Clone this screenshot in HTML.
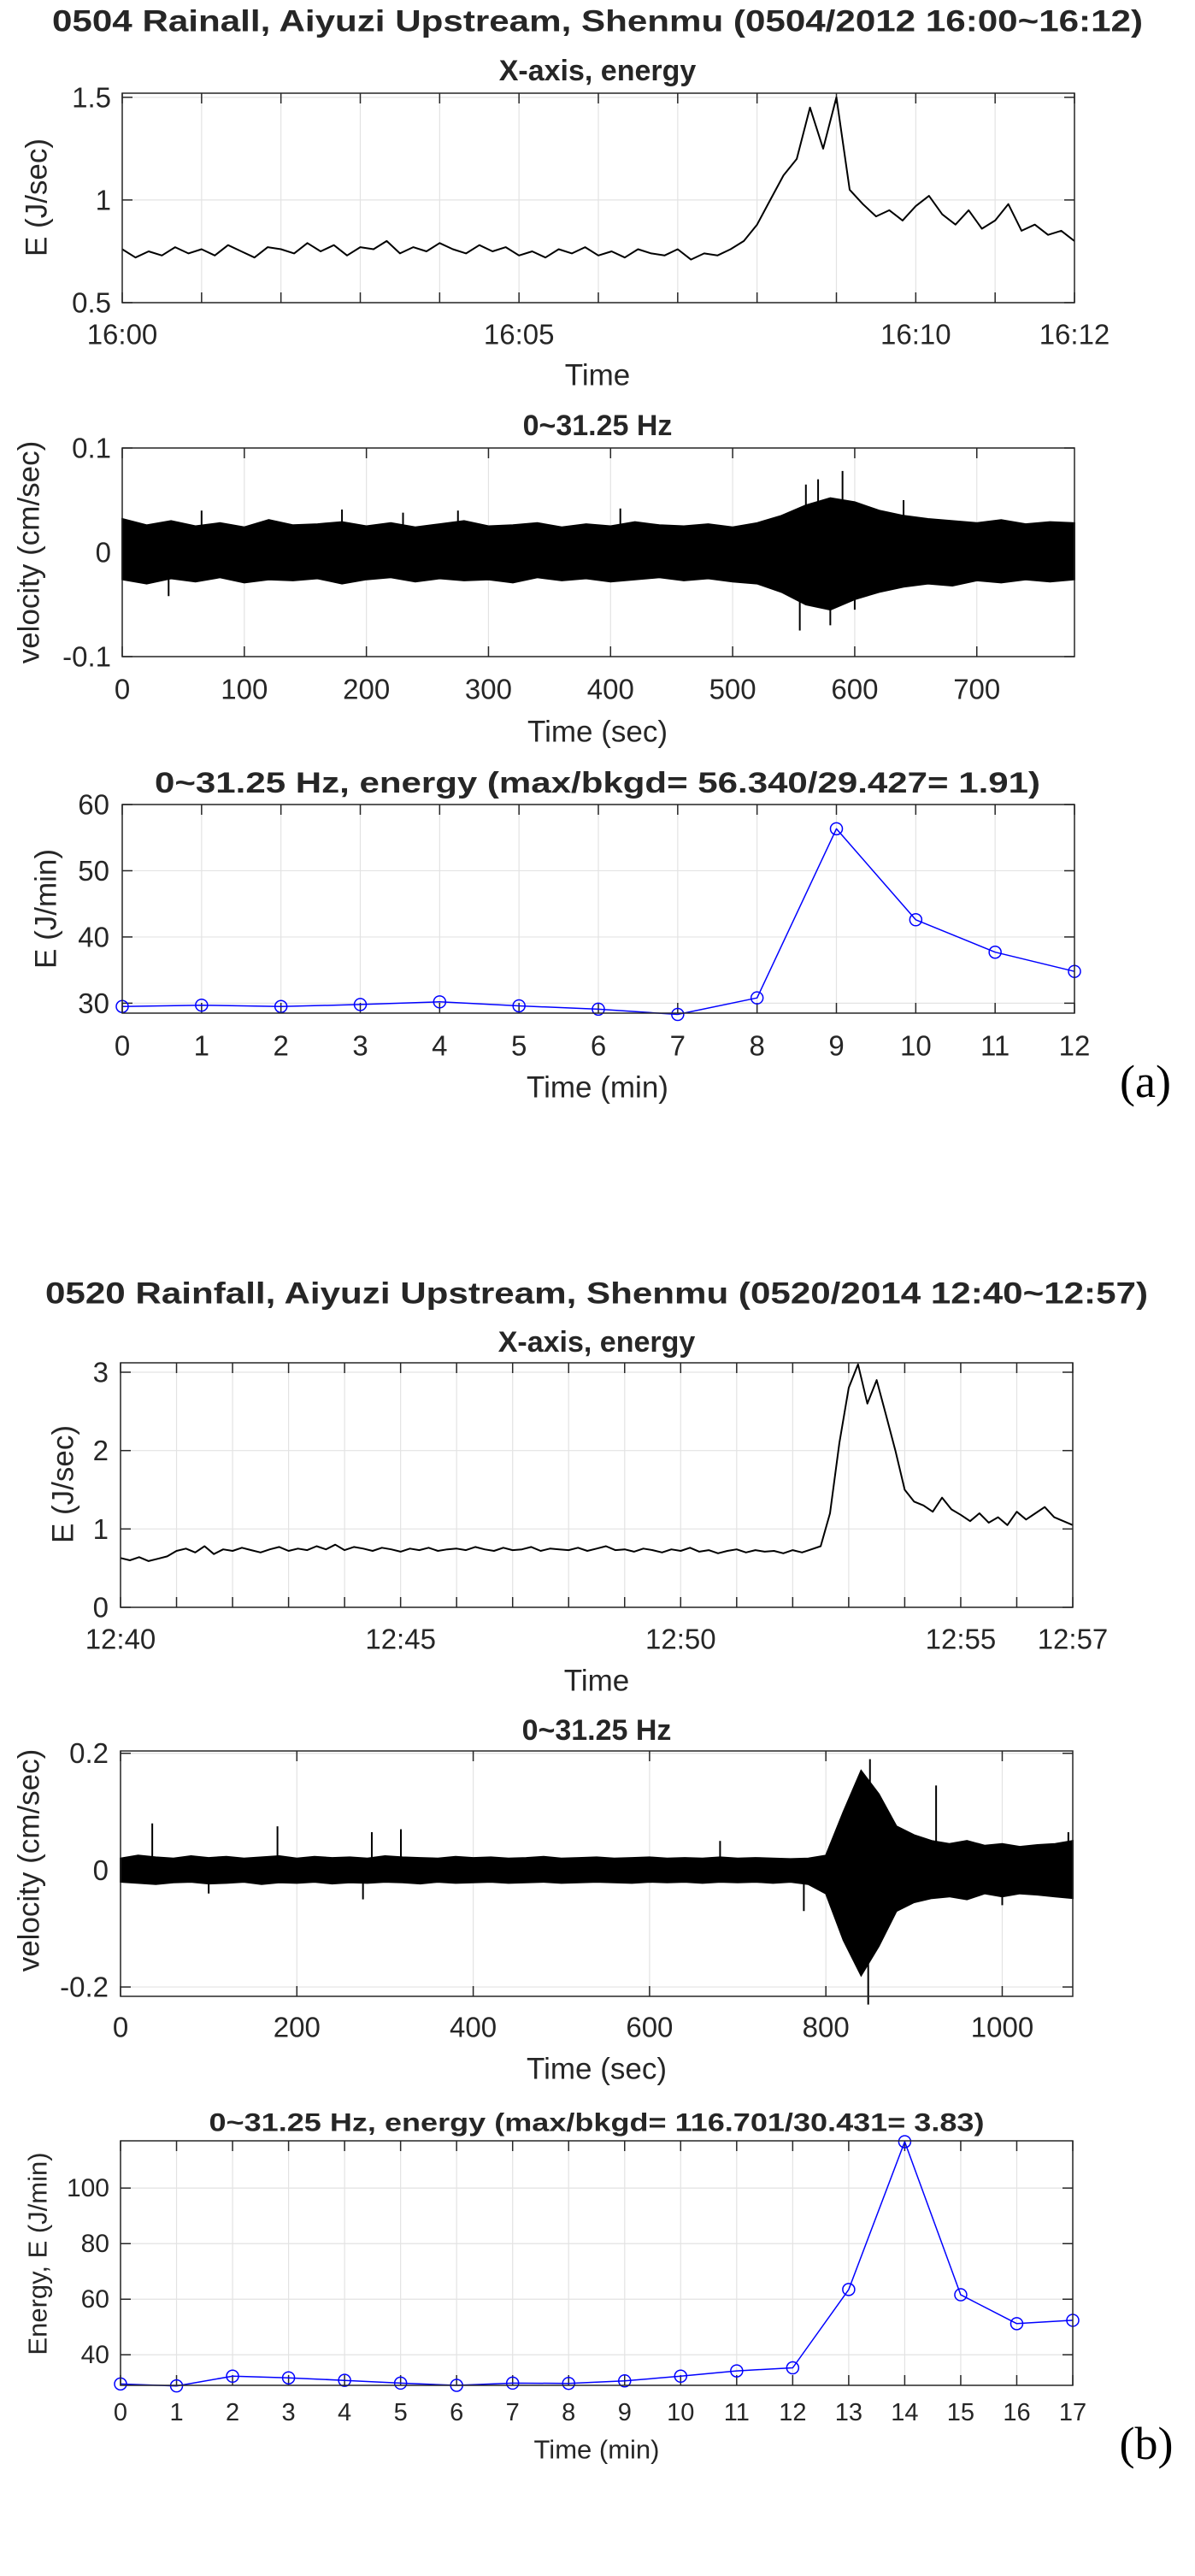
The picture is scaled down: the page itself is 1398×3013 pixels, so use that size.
<!DOCTYPE html>
<html><head><meta charset="utf-8"><style>
html,body{margin:0;padding:0;background:#fff}
svg{display:block}
text{font-family:"Liberation Sans",Arial,sans-serif;fill:#262626}
</style></head><body>
<svg id="fig" width="1398" height="3013" viewBox="0 0 1398 3013" xmlns="http://www.w3.org/2000/svg"></svg>
<script>
// ---------- DATA ----------
const a1Values = [0.76,0.72,0.75,0.73,0.77,0.74,0.76,0.73,0.78,0.75,0.72,0.77,0.76,0.74,0.79,0.75,0.78,0.73,0.77,0.76,0.80,0.74,0.77,0.75,0.79,0.76,0.74,0.78,0.75,0.77,0.73,0.75,0.72,0.76,0.74,0.77,0.73,0.75,0.72,0.76,0.74,0.73,0.76,0.71,0.74,0.73,0.76,0.80,0.88,1.00,1.12,1.20,1.45,1.25,1.50,1.05,0.98,0.92,0.95,0.90,0.97,1.02,0.93,0.88,0.95,0.86,0.90,0.98,0.85,0.88,0.83,0.85,0.80];
const a1Ticks = [0.5,1,1.5];
const a1TickLabels = ["16:00","16:05","16:10","16:12"];
const a1TickMin = [0,5,10,12];
const a2Upper = [0.032,0.026,0.030,0.025,0.028,0.024,0.031,0.026,0.027,0.029,0.025,0.028,0.024,0.027,0.030,0.025,0.026,0.028,0.024,0.027,0.025,0.029,0.026,0.025,0.027,0.024,0.028,0.035,0.045,0.052,0.048,0.040,0.035,0.032,0.030,0.028,0.031,0.027,0.029,0.028];
const a2Lower = [-0.026,-0.030,-0.025,-0.028,-0.024,-0.029,-0.026,-0.027,-0.025,-0.030,-0.026,-0.024,-0.028,-0.025,-0.027,-0.026,-0.029,-0.024,-0.027,-0.025,-0.028,-0.026,-0.024,-0.027,-0.025,-0.028,-0.030,-0.038,-0.050,-0.055,-0.045,-0.038,-0.033,-0.030,-0.032,-0.027,-0.029,-0.026,-0.028,-0.026];
const a2SpikeTimes = [38,65,180,230,275,408,555,560,570,580,590,600,640];
const a2SpikeValues = [-0.042,0.04,0.041,0.038,0.04,0.042,-0.075,0.065,0.07,-0.07,0.078,-0.055,0.05];
const a2Ticks = [-0.1,0,0.1];
const a2XTicks = [0,100,200,300,400,500,600,700];
const a3Minutes = [0,1,2,3,4,5,6,7,8,9,10,11,12];
const a3Values = [29.5,29.7,29.5,29.8,30.2,29.6,29.1,28.3,30.8,56.34,42.6,37.7,34.8];
const a3Ticks = [30,40,50,60];
const b1Values = [0.63,0.60,0.64,0.59,0.62,0.65,0.72,0.75,0.70,0.78,0.68,0.74,0.72,0.76,0.73,0.70,0.74,0.77,0.72,0.75,0.73,0.78,0.74,0.80,0.73,0.77,0.75,0.72,0.76,0.74,0.71,0.75,0.73,0.76,0.72,0.74,0.75,0.73,0.77,0.74,0.72,0.76,0.73,0.74,0.77,0.72,0.75,0.74,0.73,0.76,0.72,0.75,0.78,0.73,0.74,0.71,0.75,0.73,0.70,0.74,0.72,0.76,0.71,0.73,0.69,0.72,0.74,0.70,0.73,0.71,0.72,0.69,0.73,0.70,0.74,0.78,1.20,2.10,2.80,3.10,2.60,2.90,2.45,2.00,1.50,1.35,1.30,1.22,1.40,1.25,1.18,1.10,1.20,1.08,1.15,1.05,1.22,1.12,1.20,1.28,1.15,1.10,1.05];
const b1Ticks = [0,1,2,3];
const b1TickLabels = ["12:40","12:45","12:50","12:55","12:57"];
const b1TickMin = [0,5,10,15,17];
const b2Upper = [0.020,0.025,0.022,0.020,0.024,0.021,0.023,0.020,0.022,0.024,0.020,0.023,0.021,0.022,0.020,0.024,0.022,0.021,0.020,0.023,0.021,0.022,0.020,0.021,0.023,0.020,0.021,0.022,0.020,0.021,0.022,0.020,0.021,0.020,0.022,0.020,0.021,0.020,0.019,0.020,0.025,0.100,0.170,0.130,0.075,0.060,0.050,0.045,0.050,0.042,0.045,0.040,0.043,0.045,0.050];
const b2Lower = [-0.020,-0.022,-0.024,-0.021,-0.020,-0.023,-0.022,-0.020,-0.024,-0.021,-0.022,-0.020,-0.023,-0.021,-0.022,-0.020,-0.021,-0.023,-0.020,-0.022,-0.021,-0.020,-0.022,-0.021,-0.020,-0.022,-0.021,-0.020,-0.021,-0.022,-0.020,-0.021,-0.020,-0.022,-0.020,-0.021,-0.020,-0.022,-0.020,-0.024,-0.040,-0.120,-0.180,-0.130,-0.070,-0.055,-0.048,-0.045,-0.050,-0.040,-0.045,-0.040,-0.042,-0.045,-0.048];
const b2SpikeTimes = [36,100,178,275,285,318,680,775,848,850,925,1000,1075];
const b2SpikeValues = [0.08,-0.04,0.075,-0.05,0.065,0.07,0.05,-0.07,-0.23,0.19,0.145,-0.06,0.065];
const b2Ticks = [-0.2,0,0.2];
const b2XTicks = [0,200,400,600,800,1000];
const b3Minutes = [0,1,2,3,4,5,6,7,8,9,10,11,12,13,14,15,16,17];
const b3Values = [29.5,28.8,32.3,31.7,30.8,29.8,29.0,29.8,29.7,30.6,32.3,34.2,35.3,63.5,116.7,61.6,51.2,52.4];
const b3Ticks = [40,60,80,100];

// ---------- HELPERS ----------
const NS = "http://www.w3.org/2000/svg";
const svg = document.getElementById("fig");
function mk(tag, attrs, parent) {
  const e = document.createElementNS(NS, tag);
  for (const k in attrs) e.setAttribute(k, attrs[k]);
  (parent || svg).appendChild(e);
  return e;
}
function txt(s, x, y, size, opts) {
  opts = opts || {};
  const t = mk("text", {x:x, y:y, "font-size":size, "text-anchor":opts.anchor||"middle", "dominant-baseline":"central"});
  if (opts.bold) t.setAttribute("font-weight","bold");
  if (opts.len) { t.setAttribute("textLength", opts.len); t.setAttribute("lengthAdjust","spacingAndGlyphs"); }
  if (opts.rot) t.setAttribute("transform","rotate(-90 "+x+" "+y+")");
  if (opts.serif) t.setAttribute("style","font-family:'Liberation Serif',serif;fill:#000");
  t.textContent = s;
  return t;
}
function axes(box, xmin, xmax, ymin, ymax) {
  const sx = v => box.x0 + (v - xmin) / (xmax - xmin) * (box.x1 - box.x0);
  const sy = v => box.y1 - (v - ymin) / (ymax - ymin) * (box.y1 - box.y0);
  return {sx, sy};
}
function frame(box, name) {
  const r = mk("rect", {x:box.x0, y:box.y0, width:box.x1-box.x0, height:box.y1-box.y0, fill:"none", stroke:"#262626", "stroke-width":1.5});
  
  
}
function grid(box, xs, ys, A) {
  const g = mk("g", {stroke:"#e3e3e3", "stroke-width":1.2});
  
  
  xs.forEach(v => { mk("line",{x1:A.sx(v),x2:A.sx(v),y1:box.y0,y2:box.y1},g); });
  ys.forEach(v => { mk("line",{x1:box.x0,x2:box.x1,y1:A.sy(v),y2:A.sy(v)},g); });
  const t = mk("g", {stroke:"#262626", "stroke-width":1.5});
  
  
  xs.forEach(v => { mk("line",{x1:A.sx(v),x2:A.sx(v),y1:box.y1,y2:box.y1-12},t); mk("line",{x1:A.sx(v),x2:A.sx(v),y1:box.y0,y2:box.y0+12},t); });
  ys.forEach(v => { mk("line",{x1:box.x0,x2:box.x0+12,y1:A.sy(v),y2:A.sy(v)},t); mk("line",{x1:box.x1,x2:box.x1-12,y1:A.sy(v),y2:A.sy(v)},t); });
}
function line(xs, ys, A, color, w, name) {
  const d = xs.map((x,i)=>(i?"L":"M")+A.sx(x).toFixed(1)+" "+A.sy(ys[i]).toFixed(1)).join(" ");
  const p = mk("path", {d:d, fill:"none", stroke:color, "stroke-width":w, "stroke-linejoin":"round"});
  
  
  return p;
}
function band(step, up, lo, A, name) {
  let d = up.map((v,i)=>(i?"L":"M")+A.sx(i*step).toFixed(1)+" "+A.sy(v).toFixed(1)).join(" ");
  for (let i = lo.length-1; i >= 0; i--) d += " L"+A.sx(i*step).toFixed(1)+" "+A.sy(lo[i]).toFixed(1);
  const p = mk("path", {d:d+" Z", fill:"#000", stroke:"#000", "stroke-width":2, "stroke-linejoin":"miter"});
  
  
}
function spikes(ts, vs, A, name) {
  const g = mk("g", {stroke:"#000", "stroke-width":2});
  
  
  ts.forEach((t,i)=>{ mk("line",{x1:A.sx(t),x2:A.sx(t),y1:A.sy(0),y2:A.sy(vs[i])},g); });
}
function markers(xs, ys, A, name) {
  const g = mk("g", {fill:"none", stroke:"#0000ff", "stroke-width":1.5});
  
  
  xs.forEach((x,i)=>{ mk("circle",{cx:A.sx(x),cy:A.sy(ys[i]),r:7},g); });
}
function label(s, x, y, size, name, opts) {
  const t = txt(s, x, y, size, opts);
  
  
}

// ---------- PANEL (a) ----------
label("0504 Rainall, Aiyuzi Upstream, Shenmu (0504/2012 16:00~16:12)", 699, 25, 35, "figure-a-title", {bold:true, len:1276});
(function(){
  const box = {x0:143, x1:1257, y0:109, y1:354};
  const A = axes(box, 0, 720, 0.5, 1.52);
  const mins = [0,1,2,3,4,5,6,7,8,9,10,11,12];
  grid(box, mins.map(m=>m*60), a1Ticks, A);
  line(a1Values.map((v,i)=>i*10), a1Values, A, "#000", 2, "energy-line-a");
  frame(box, "energy-axes-a");
  label("X-axis, energy", 699, 83, 34, "energy-title-a", {bold:true});
  a1Ticks.forEach(v => label(String(v), 130, A.sy(v), 33, "y-tick-label", {anchor:"end"}));
  a1TickMin.forEach((m,i) => label(a1TickLabels[i], A.sx(m*60), 391, 33, "x-tick-label"));
  label("Time", 699, 439, 35, "x-axis-title");
  label("E (J/sec)", 43, 231, 35, "y-axis-title", {rot:true});
})();
(function(){
  const box = {x0:143, x1:1257, y0:524, y1:768};
  const A = axes(box, 0, 780, -0.1, 0.1);
  grid(box, a2XTicks, a2Ticks, A);
  band(20, a2Upper, a2Lower, A, "velocity-trace-a");
  spikes(a2SpikeTimes, a2SpikeValues, A, "velocity-spikes-a");
  frame(box, "velocity-axes-a");
  label("0~31.25 Hz", 699, 498, 34, "velocity-title-a", {bold:true});
  a2Ticks.forEach(v => label(String(v), 130, A.sy(v), 33, "y-tick-label", {anchor:"end"}));
  a2XTicks.forEach(v => label(String(v), A.sx(v), 806, 33, "x-tick-label"));
  label("Time (sec)", 699, 856, 35, "x-axis-title");
  label("velocity (cm/sec)", 34, 646, 35, "y-axis-title", {rot:true});
})();
(function(){
  const box = {x0:143, x1:1257, y0:941, y1:1185};
  const A = axes(box, 0, 12, 28.5, 60);
  grid(box, a3Minutes, a3Ticks, A);
  line(a3Minutes, a3Values, A, "#0000ff", 1.5, "energy-per-minute-line-a");
  markers(a3Minutes, a3Values, A, "energy-markers-a");
  frame(box, "energy-minute-axes-a");
  label("0~31.25 Hz, energy (max/bkgd= 56.340/29.427= 1.91)", 699, 916, 34, "energy-minute-title-a", {bold:true, len:1036});
  a3Ticks.forEach(v => label(String(v), 128, A.sy(v), 33, "y-tick-label", {anchor:"end"}));
  a3Minutes.forEach(v => label(String(v), A.sx(v), 1223, 33, "x-tick-label"));
  label("Time (min)", 699, 1272, 35, "x-axis-title");
  label("E (J/min)", 54, 1063, 35, "y-axis-title", {rot:true});
  label("(a)", 1340, 1265, 54, "panel-label-a", {serif:true});
})();

// ---------- PANEL (b) ----------
label("0520 Rainfall, Aiyuzi Upstream, Shenmu (0520/2014 12:40~12:57)", 698, 1513, 35, "figure-b-title", {bold:true, len:1290});
(function(){
  const box = {x0:141, x1:1255, y0:1594, y1:1880};
  const A = axes(box, 0, 1020, 0, 3.12);
  const mins = []; for (let m=0;m<=17;m++) mins.push(m*60);
  grid(box, mins, b1Ticks, A);
  line(b1Values.map((v,i)=>i*10), b1Values, A, "#000", 2, "energy-line-b");
  frame(box, "energy-axes-b");
  label("X-axis, energy", 698, 1570, 34, "energy-title-b", {bold:true});
  b1Ticks.forEach(v => label(String(v), 127, A.sy(v), 33, "y-tick-label", {anchor:"end"}));
  b1TickMin.forEach((m,i) => label(b1TickLabels[i], A.sx(m*60), 1917, 33, "x-tick-label"));
  label("Time", 698, 1966, 35, "x-axis-title");
  label("E (J/sec)", 74, 1736, 35, "y-axis-title", {rot:true});
})();
(function(){
  const box = {x0:141, x1:1255, y0:2048, y1:2335};
  const A = axes(box, 0, 1080, -0.216, 0.204);
  grid(box, b2XTicks, b2Ticks, A);
  band(20, b2Upper, b2Lower, A, "velocity-trace-b");
  spikes(b2SpikeTimes, b2SpikeValues, A, "velocity-spikes-b");
  frame(box, "velocity-axes-b");
  label("0~31.25 Hz", 698, 2024, 34, "velocity-title-b", {bold:true});
  b2Ticks.forEach(v => label(String(v), 127, A.sy(v), 33, "y-tick-label", {anchor:"end"}));
  b2XTicks.forEach(v => label(String(v), A.sx(v), 2371, 33, "x-tick-label"));
  label("Time (sec)", 698, 2420, 35, "x-axis-title");
  label("velocity (cm/sec)", 34, 2176, 35, "y-axis-title", {rot:true});
})();
(function(){
  const box = {x0:141, x1:1255, y0:2504, y1:2790};
  const A = axes(box, 0, 17, 29, 117);
  grid(box, b3Minutes, b3Ticks, A);
  line(b3Minutes, b3Values, A, "#0000ff", 1.5, "energy-per-minute-line-b");
  markers(b3Minutes, b3Values, A, "energy-markers-b");
  frame(box, "energy-minute-axes-b");
  label("0~31.25 Hz, energy (max/bkgd= 116.701/30.431= 3.83)", 698, 2483, 30, "energy-minute-title-b", {bold:true, len:907});
  b3Ticks.forEach(v => label(String(v), 128, A.sy(v), 30, "y-tick-label", {anchor:"end"}));
  b3Minutes.forEach(v => label(String(v), A.sx(v), 2822, 29, "x-tick-label"));
  label("Time (min)", 698, 2865, 31, "x-axis-title");
  label("Energy, E (J/min)", 44, 2636, 31, "y-axis-title", {rot:true});
  label("(b)", 1341, 2858, 54, "panel-label-b", {serif:true});
})();
</script>
</body></html>
